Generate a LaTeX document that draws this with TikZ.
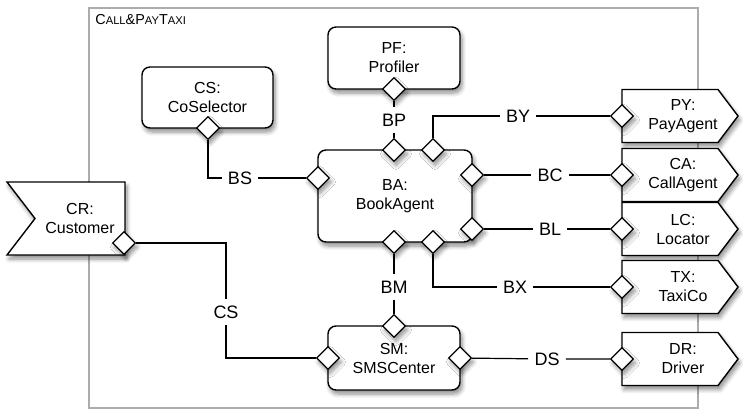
\documentclass[tikz,border=0pt]{standalone}
\usepackage{fontspec}
\setmainfont{Liberation Sans}
\usetikzlibrary{shapes.geometric,shadows.blur}

\newcommand{\mysc}[2]{{\fontsize{7.2}{8}\selectfont #1}{\fontsize{5.6}{6}\selectfont #2}}

\begin{document}
\begin{tikzpicture}[x=0.5pt,y=-0.5pt,
  shd/.style={blur shadow={shadow blur steps=6, shadow xshift=1pt, shadow yshift=-2pt, shadow opacity=45}},
  txt/.style={align=center, font=\fontsize{8}{9.5}\selectfont},
  comp/.style={txt, draw, line width=0.7pt, rounded corners=4pt, fill=white, shd},
  flag/.style={draw, line width=0.7pt, fill=white, shd},
  port/.style={diamond, draw, line width=0.6pt, fill=white, minimum size=11.5pt, inner sep=0pt, shd},
  lbl/.style={inner sep=3pt, font=\fontsize{9}{10}\selectfont},
  conn/.style={line width=0.6pt}]
  \useasboundingbox (0,0) rectangle (743,413);
  % enclosing composite
  \draw[gray!65, line width=0.8pt] (89,8) rectangle (698,408);
  \node[anchor=west, inner sep=0pt] (title) at (95,20)
    {\mysc{C}{ALL}{\fontsize{7.2}{8}\selectfont\&}\mysc{P}{AY}\mysc{T}{AXI}};

  % components
  \node[comp, minimum width=65.5pt, minimum height=30.5pt] (cs) at (207.5,97.5) {CS:\\CoSelector};
  \node[comp, minimum width=66pt, minimum height=31pt] (pf) at (394,58) {PF:\\Profiler};
  \node[comp, minimum width=77pt, minimum height=46pt] (ba) at (395,196) {BA:\\BookAgent};
  \node[comp, minimum width=66pt, minimum height=32pt] (sm) at (394,358) {SM:\\SMSCenter};

  % customer (notched on the left)
  \path[flag] (7,182) -- (125,182) -- (125,255) -- (7,255) -- (35,218.5) -- cycle;
  \node[txt] (cr) at (80,218.5) {CR:\\Customer};

  % external agents (pointed on the right)
  \foreach \nm/\yc/\lab in {py/116/{PY:\\PayAgent}, ca/175/{CA:\\CallAgent},
      lc/229/{LC:\\Locator}, tx/287/{TX:\\TaxiCo}, dr/359/{DR:\\Driver}} {
    \path[flag] (622,\yc-26.5) -- (718,\yc-26.5) -- (738,\yc) -- (718,\yc+26.5)
      -- (622,\yc+26.5) -- cycle;
    \node[txt] (\nm) at (683,\yc) {\lab};
    \node[port] (\nm-p) at (622,\yc) {};
  }

  % ports
  \node[port] (cs-s) at (208,128) {};
  \node[port] (pf-s) at (394,89) {};
  \node[port] (ba-w) at (318,178) {};
  \node[port] (ba-n1) at (394,150) {};
  \node[port] (ba-n2) at (433,150) {};
  \node[port] (ba-e1) at (472,175) {};
  \node[port] (ba-e2) at (472,229) {};
  \node[port] (ba-s1) at (394,242) {};
  \node[port] (ba-s2) at (433,242) {};
  \node[port] (sm-n) at (394,326) {};
  \node[port] (sm-w) at (328,358) {};
  \node[port] (sm-e) at (460,358) {};
  \node[port] (cr-p) at (124,243) {};

  % connector labels
  \node[lbl] (lbs) at (240,178) {BS};
  \node[lbl] (lbp) at (394,120) {BP};
  \node[lbl] (lby) at (518,116) {BY};
  \node[lbl] (lbc) at (550,175) {BC};
  \node[lbl] (lbl) at (550,229) {BL};
  \node[lbl] (lbx) at (515,287) {BX};
  \node[lbl] (lbm) at (394,287) {BM};
  \node[lbl] (lcs) at (226,312) {CS};
  \node[lbl] (lds) at (547,359) {DS};

  % connectors
  \draw[conn] (cs-s) |- (lbs) -- (ba-w);
  \draw[conn] (pf-s) -- (lbp) -- (ba-n1);
  \draw[conn] (ba-n2) |- (lby) -- (py-p);
  \draw[conn] (ba-e1) -- (lbc) -- (ca-p);
  \draw[conn] (ba-e2) -- (lbl) -- (lc-p);
  \draw[conn] (ba-s2) |- (lbx) -- (tx-p);
  \draw[conn] (ba-s1) -- (lbm) -- (sm-n);
  \draw[conn] (cr-p) -| (lcs) |- (sm-w);
  \draw[conn] (sm-e) -- (lds) -- (dr-p);
\end{tikzpicture}
\end{document}
